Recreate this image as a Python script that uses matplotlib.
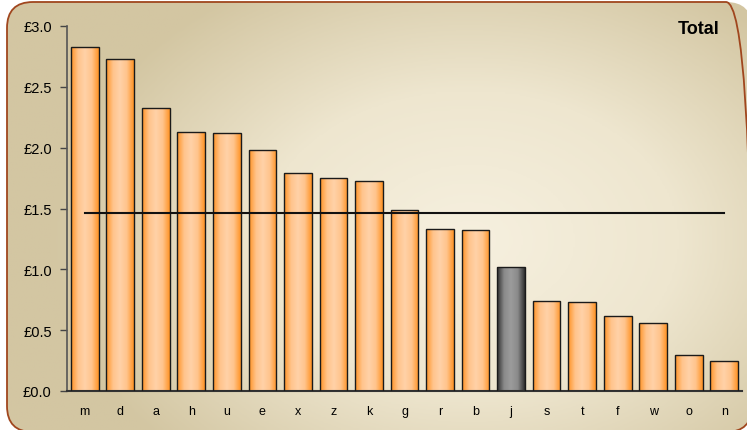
import numpy as np
import matplotlib.pyplot as plt
from matplotlib.patches import FancyBboxPatch
from matplotlib.colors import LinearSegmentedColormap

# spend per item, sorted high to low
items = ['m', 'd', 'a', 'h', 'u', 'e', 'x', 'z', 'k', 'g', 'r', 'b', 'j', 's', 't', 'f', 'w', 'o', 'n']
values = [2.83, 2.73, 2.33, 2.13, 2.12, 1.98, 1.79, 1.75, 1.73, 1.49, 1.33, 1.32, 1.02, 0.74, 0.73, 0.62, 0.56, 0.30, 0.25]
highlight = 'j'
average = 1.46

plt.rcParams['font.family'] = ['Liberation Sans', 'DejaVu Sans']

fig = plt.figure(figsize=(7.47, 4.31), dpi=100)

# rounded frame with a soft radial fill (pixel coords, origin bottom-left)
bg = fig.add_axes([0, 0, 1, 1], zorder=0)
bg.set_xlim(0, 747)
bg.set_ylim(0, 431)
bg.axis('off')
frame = FancyBboxPatch((7, -2), 745, 430, boxstyle='round,pad=0,rounding_size=26',
                       facecolor='none', edgecolor='#A0461E', linewidth=1.3)
bg.add_patch(frame)
gx, gy = np.meshgrid(np.linspace(0, 747, 300), np.linspace(431, 0, 200))
r = np.sqrt(((gx - 470) / 420) ** 2 + ((gy - 190) / 300) ** 2)
bg_cmap = LinearSegmentedColormap.from_list('bg', ['#F6F0DF', '#EEE6CF', '#D3C6A2'])
img = bg.imshow(np.clip(r, 0, 1), cmap=bg_cmap, extent=(0, 747, 0, 431), origin='upper',
                aspect='auto', vmin=0, vmax=1)
img.set_clip_path(frame)

ax = fig.add_axes([67 / 747, 1 - 392 / 431, 675 / 747, 365 / 431], zorder=1)
ax.patch.set_alpha(0)

x = np.arange(len(items))
bars = ax.bar(x, values, width=0.78, facecolor='none', edgecolor='#1A1A1A', linewidth=1.0, zorder=3)

orange = LinearSegmentedColormap.from_list('orange', ['#FF9426', '#FFC48C', '#FFD2A8', '#FFC48C', '#FF9426'])
grey = LinearSegmentedColormap.from_list('grey', ['#303030', '#8A8A8A', '#9C9C9C', '#8A8A8A', '#303030'])
ramp = np.linspace(0, 1, 64).reshape(1, -1)
for bar, name in zip(bars, items):
    bx, by = bar.get_x(), bar.get_y()
    w, h = bar.get_width(), bar.get_height()
    cm = grey if name == highlight else orange
    im = ax.imshow(ramp, cmap=cm, extent=(bx, bx + w, by, by + h), aspect='auto', zorder=2)
    im.set_clip_path(bar)

ax.plot([x[0], x[-1]], [average, average], color='#111111', linewidth=1.5, zorder=4)

ax.set_xlim(-0.5, len(items) - 0.5)
ax.set_ylim(0, 3.0)
ax.set_yticks(np.arange(0, 3.01, 0.5))
ax.set_yticklabels(['£%.1f' % v for v in np.arange(0, 3.01, 0.5)], fontsize=10.5)
ax.set_xticks(x)
ax.set_xticklabels(items, fontsize=9)
ax.tick_params(axis='x', length=0, pad=10)
ax.tick_params(axis='y', length=5, width=1, color='#444444', direction='out', pad=6)
for s in ['top', 'right']:
    ax.spines[s].set_visible(False)
ax.spines['left'].set_color('#555555')
ax.spines['bottom'].set_color('#333333')
ax.spines['left'].set_linewidth(1.2)
ax.spines['bottom'].set_linewidth(1.5)

fig.text(720 / 747, 1 - 29 / 431, 'Total', ha='right', va='center', fontsize=13, fontweight='bold')

fig.savefig('out.png', dpi=100)
